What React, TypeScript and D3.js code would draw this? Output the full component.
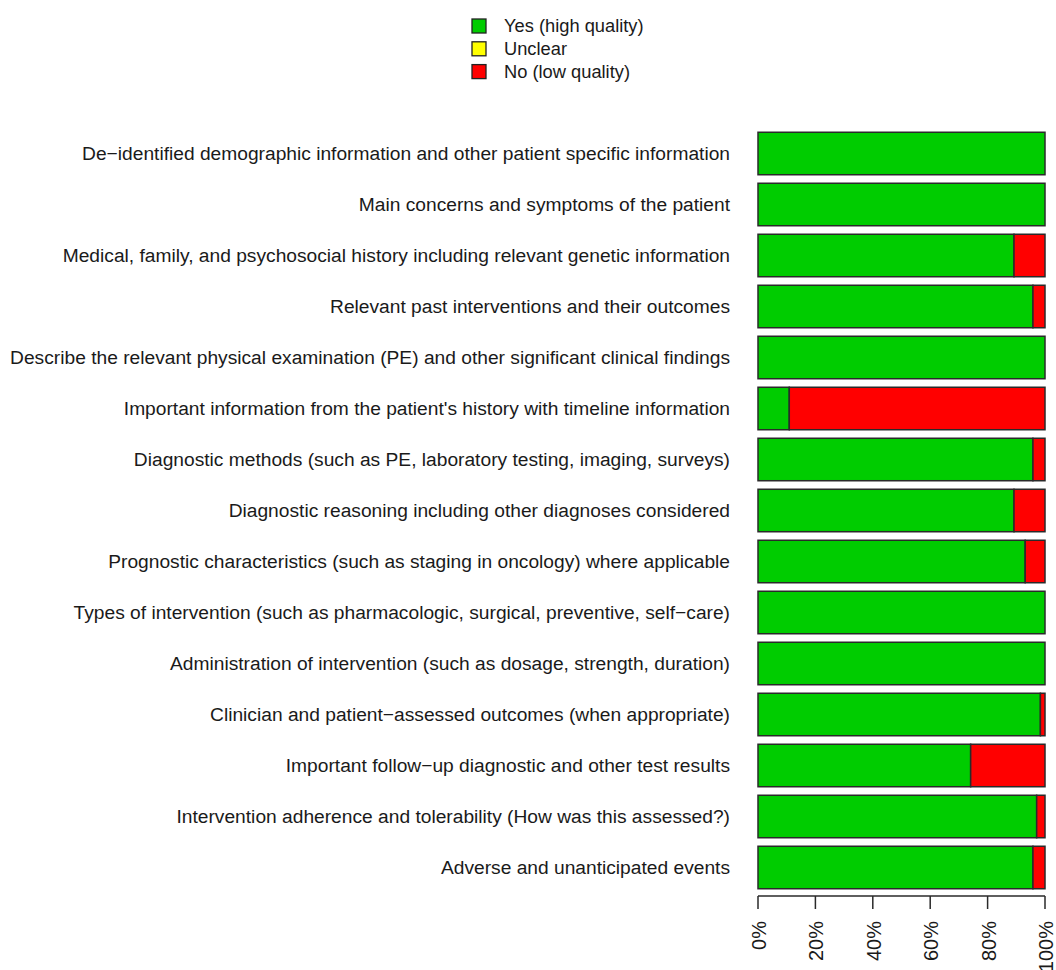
import React from "react"
import * as d3 from "d3"

const categories = [
  "De−identified demographic information and other patient specific information",
  "Main concerns and symptoms of the patient",
  "Medical, family, and psychosocial history including relevant genetic information",
  "Relevant past interventions and their outcomes",
  "Describe the relevant physical examination (PE) and other significant clinical findings",
  "Important information from the patient's history with timeline information",
  "Diagnostic methods (such as PE, laboratory testing, imaging, surveys)",
  "Diagnostic reasoning including other diagnoses considered",
  "Prognostic characteristics (such as staging in oncology) where applicable",
  "Types of intervention (such as pharmacologic, surgical, preventive, self−care)",
  "Administration of intervention (such as dosage, strength, duration)",
  "Clinician and patient−assessed outcomes (when appropriate)",
  "Important follow−up diagnostic and other test results",
  "Intervention adherence and tolerability (How was this assessed?)",
  "Adverse and unanticipated events",
]

const yesValues = [100, 100, 89.2, 95.8, 100, 10.9, 95.8, 89.2, 93.1, 100, 100, 98.4, 74.1, 97.1, 95.8]
const unclearValues = [0, 0, 0, 0, 0, 0, 0, 0, 0, 0, 0, 0, 0, 0, 0]
const noValues = [0, 0, 10.8, 4.2, 0, 89.1, 4.2, 10.8, 6.9, 0, 0, 1.6, 25.9, 2.9, 4.2]

const legendLabels = ["Yes (high quality)", "Unclear", "No (low quality)"]
const colors = ["#00cc00", "#ffff00", "#ff0000"]
const ticks = [0, 20, 40, 60, 80, 100]

const font = "'Liberation Sans', Arial, sans-serif"

export default function App() {
  const x = d3.scaleLinear().domain([0, 100]).range([758, 1045])
  const y = d3.scaleBand<string>()
    .domain(categories)
    .range([128, 893])
    .paddingInner(0.167)
    .paddingOuter(0.0835)

  const stack = categories.map((c, i) => {
    const vals = [yesValues[i], unclearValues[i], noValues[i]]
    let acc = 0
    return vals.map((v, k) => {
      const seg = { cat: c, k, x0: acc, x1: acc + v }
      acc += v
      return seg
    }).filter(s => s.x1 > s.x0)
  })

  const axisY = 896

  return (
    <svg width={1056} height={970} style={{ position: "absolute", left: 0, top: 0, background: "#fff" }}>
      {/* legend */}
      {legendLabels.map((l, i) => (
        <g key={l} transform={`translate(0,${26 + i * 22.8})`}>
          <rect x={472} y={-7} width={14} height={14} fill={colors[i]} stroke="#222" strokeWidth={1.3} />
          <text x={504} y={0} dy="0.35em" fontFamily={font} fontSize={18.3} fill="#1a1a1a">{l}</text>
        </g>
      ))}

      {/* bars */}
      {stack.map((segs, i) => (
        <g key={categories[i]}>
          {segs.map(s => (
            <rect key={s.k}
              x={x(s.x0)} y={y(s.cat)!}
              width={x(s.x1) - x(s.x0)} height={y.bandwidth()}
              fill={colors[s.k]} stroke="#2a2a2a" strokeWidth={1.5} />
          ))}
          <text x={730} y={y(categories[i])! + y.bandwidth() / 2} dy="0.35em"
            textAnchor="end" fontFamily={font} fontSize={19.2} fill="#1a1a1a">
            {categories[i]}
          </text>
        </g>
      ))}

      {/* x axis */}
      <g>
        <line x1={x(0)} x2={x(100)} y1={axisY} y2={axisY} stroke="#2a2a2a" strokeWidth={1.5} />
        {ticks.map(t => (
          <g key={t}>
            <line x1={x(t)} x2={x(t)} y1={axisY} y2={axisY + 13} stroke="#2a2a2a" strokeWidth={1.5} />
            <text transform={`translate(${x(t) + 1},921) rotate(-90)`} dy="0.35em"
              textAnchor="end" fontFamily={font} fontSize={20} fill="#1a1a1a">{t + "%"}</text>
          </g>
        ))}
      </g>
    </svg>
  )
}
